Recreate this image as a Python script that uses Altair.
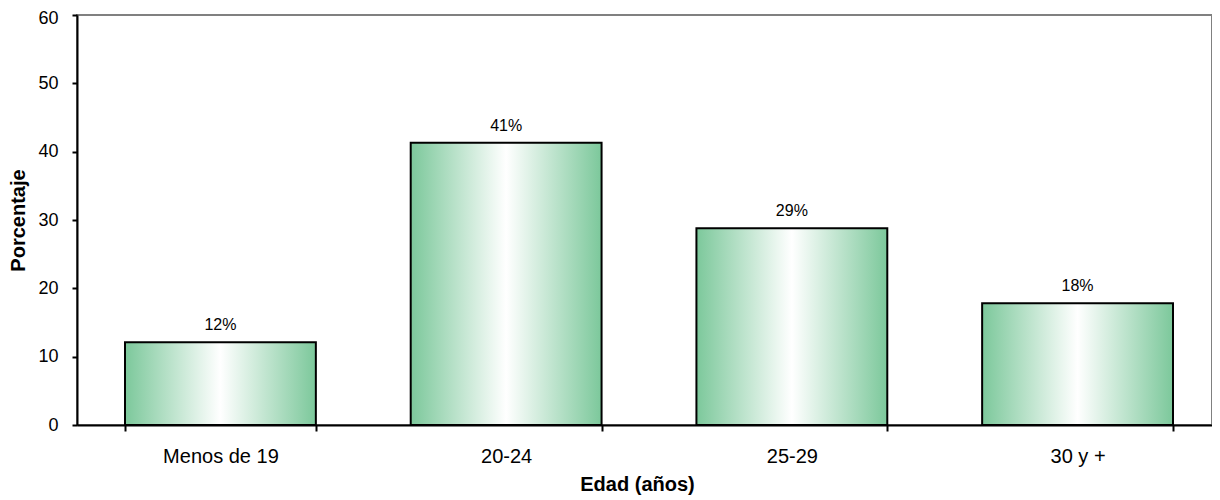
import altair as alt
import pandas as pd

categorias = ["Menos de 19", "20-24", "25-29", "30 y +"]
valores = [12.1, 41.3, 28.8, 17.8]
etiquetas = ["12%", "41%", "29%", "18%"]

df = pd.DataFrame({"edad": categorias, "pct": valores, "lab": etiquetas})

grad = {
    "gradient": "linear",
    "x1": 0, "x2": 1, "y1": 0, "y2": 0,
    "stops": [
        {"offset": 0, "color": "#7cc89b"},
        {"offset": 0.5, "color": "#ffffff"},
        {"offset": 1, "color": "#7cc89b"},
    ],
}

FONT = "Liberation Sans"

x = alt.X("edad:N", sort=categorias, title="Edad (años)",
          scale=alt.Scale(paddingInner=0.332, paddingOuter=0.168, range=[0, 1144]),
          axis=alt.Axis(labelAngle=0, tickBand="extent", tickSize=6,
                        labelPadding=15, titlePadding=8, labelFontSize=20,
                        titleFontSize=20, labelColor="black", titleColor="black",
                        domainColor="black", tickColor="black", domainWidth=2,
                        tickWidth=2, labelFont=FONT, titleFont=FONT,
                        titleFontWeight="bold", titleX=560))
y = alt.Y("pct:Q", title="Porcentaje",
          scale=alt.Scale(domain=[0, 60]),
          axis=alt.Axis(values=[0, 10, 20, 30, 40, 50, 60], grid=False, tickSize=5,
                        labelPadding=14, titlePadding=9, labelFontSize=18,
                        labelOffset=alt.condition("datum.value == 60", alt.value(3), alt.value(0)),
                        titleFontSize=20, labelColor="black", titleColor="black",
                        domainColor="black", tickColor="black", domainWidth=2,
                        tickWidth=2, labelFont=FONT, titleFont=FONT,
                        titleFontWeight="bold"))

bars = alt.Chart(df).mark_bar(color=grad, stroke="black", strokeWidth=2).encode(x=x, y=y)
text = alt.Chart(df).mark_text(baseline="alphabetic", dy=-12, fontSize=16, font=FONT,
                               color="black").encode(
    x=alt.X("edad:N", sort=categorias), y="pct:Q", text="lab:N")

chart = (bars + text).properties(
    width=1135, height=410,
    autosize=alt.AutoSizeParams(type="none"),
    padding={"left": 69, "top": 7, "right": 0, "bottom": 75},
).configure_view(stroke="#808080", strokeWidth=2)

chart.save("out.html", embed_options={"renderer": "svg", "actions": False})
